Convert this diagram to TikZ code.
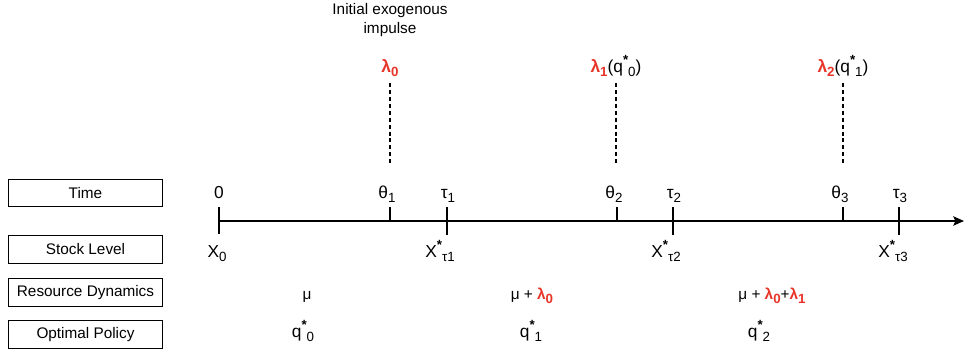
\documentclass[tikz,border=0pt]{standalone}
\usepackage{fontspec}
\setmainfont{Liberation Sans}
\usetikzlibrary{arrows.meta}
\definecolor{lred}{RGB}{232,52,40}
\newcommand\dn[1]{\raisebox{-0.5ex}{\fontsize{10}{11}\selectfont #1}}
\newcommand\up[1]{\raisebox{0.85ex}{\fontsize{10}{11}\selectfont\bfseries #1}}
\newcommand\lam[1]{\textcolor{lred}{\bfseries λ\dn{#1}}}
\begin{document}
\begin{tikzpicture}[x=0.75pt,y=-0.75pt,
  font=\fontsize{11.5}{14.25}\selectfont,
  rowbox/.style={draw, line width=0.8pt, minimum width=116pt, minimum height=20.5pt, inner sep=0pt},
  tickline/.style={line width=1pt},
  txt/.style={inner sep=0pt, anchor=base},
  big/.style={font=\fontsize{13}{15}\selectfont},
  dashline/.style={line width=1pt, dash pattern=on 3pt off 2.2pt}]
\useasboundingbox (0,0) rectangle (964,354);

% row boxes
\node[rowbox] (bt) at (85.5,193) {Time};
\node[rowbox] (bs) at (85.5,249.5) {Stock Level};
\node[rowbox] (br) at (85.5,292.5) {Resource Dynamics};
\node[rowbox] (bo) at (85.5,334.5) {Optimal Policy};

% axis
\coordinate (ax0) at (219,221);
\coordinate (ax1) at (964,221);
\draw[line width=1pt, -{Stealth[length=8pt,width=7pt,inset=1.5pt]}] (ax0) -- (ax1);

% ticks
\coordinate (t0a) at (219,207); \coordinate (t0b) at (219,234);
\coordinate (h1a) at (390,207); \coordinate (h1b) at (390,221);
\coordinate (u1a) at (447,207); \coordinate (u1b) at (447,235);
\coordinate (h2a) at (617,207); \coordinate (h2b) at (617,221);
\coordinate (u2a) at (673,207); \coordinate (u2b) at (673,235);
\coordinate (h3a) at (843,207); \coordinate (h3b) at (843,221);
\coordinate (u3a) at (899,207); \coordinate (u3b) at (899,235);
\draw[tickline] (t0a) -- (t0b);
\draw[tickline] (h1a) -- (h1b);
\draw[tickline] (u1a) -- (u1b);
\draw[tickline] (h2a) -- (h2b);
\draw[tickline] (u2a) -- (u2b);
\draw[tickline] (h3a) -- (h3b);
\draw[tickline] (u3a) -- (u3b);

% time labels
\node[txt, big] (l0) at (219,198) {0};
\node[txt, big] (lh1) at (387,198) {θ\dn{1}};
\node[txt, big] (lu1) at (448,198) {τ\dn{1}};
\node[txt, big] (lh2) at (614,198) {θ\dn{2}};
\node[txt, big] (lu2) at (674,198) {τ\dn{2}};
\node[txt, big] (lh3) at (840,198) {θ\dn{3}};
\node[txt, big] (lu3) at (900,198) {τ\dn{3}};

% stock labels
\node[txt, big] (x0) at (217,257) {X\dn{0}};
\node[txt, big] (x1) at (440,257) {X\up{*}\dn{τ1}};
\node[txt, big] (x2) at (666,257) {X\up{*}\dn{τ2}};
\node[txt, big] (x3) at (893,257) {X\up{*}\dn{τ3}};

% impulses
\node[inner sep=0pt, align=center, anchor=north] (init) at (390,3) {Initial exogenous\\impulse};
\node[txt, big] (i0) at (390,72) {\lam{0}};
\node[txt, big] (i1) at (616,72) {\lam{1}(q\up{*}\dn{0})};
\node[txt, big] (i2) at (843,72) {\lam{2}(q\up{*}\dn{1})};
\coordinate (d0a) at (390,83); \coordinate (d0b) at (390,165);
\coordinate (d1a) at (616,83); \coordinate (d1b) at (616,165);
\coordinate (d2a) at (843,83); \coordinate (d2b) at (843,165);
\draw[dashline] (d0a) -- (d0b);
\draw[dashline] (d1a) -- (d1b);
\draw[dashline] (d2a) -- (d2b);

% resource dynamics
\node[txt] (r0) at (307,299) {μ};
\node[txt] (r1) at (532,299) {μ + \lam{0}};
\node[txt] (r2) at (772,299) {μ + \lam{0}+\lam{1}};

% optimal policy
\node[txt, big] (q0) at (303,337) {q\up{*}\dn{0}};
\node[txt, big] (q1) at (531,337) {q\up{*}\dn{1}};
\node[txt, big] (q2) at (759,337) {q\up{*}\dn{2}};
\end{tikzpicture}
\end{document}
